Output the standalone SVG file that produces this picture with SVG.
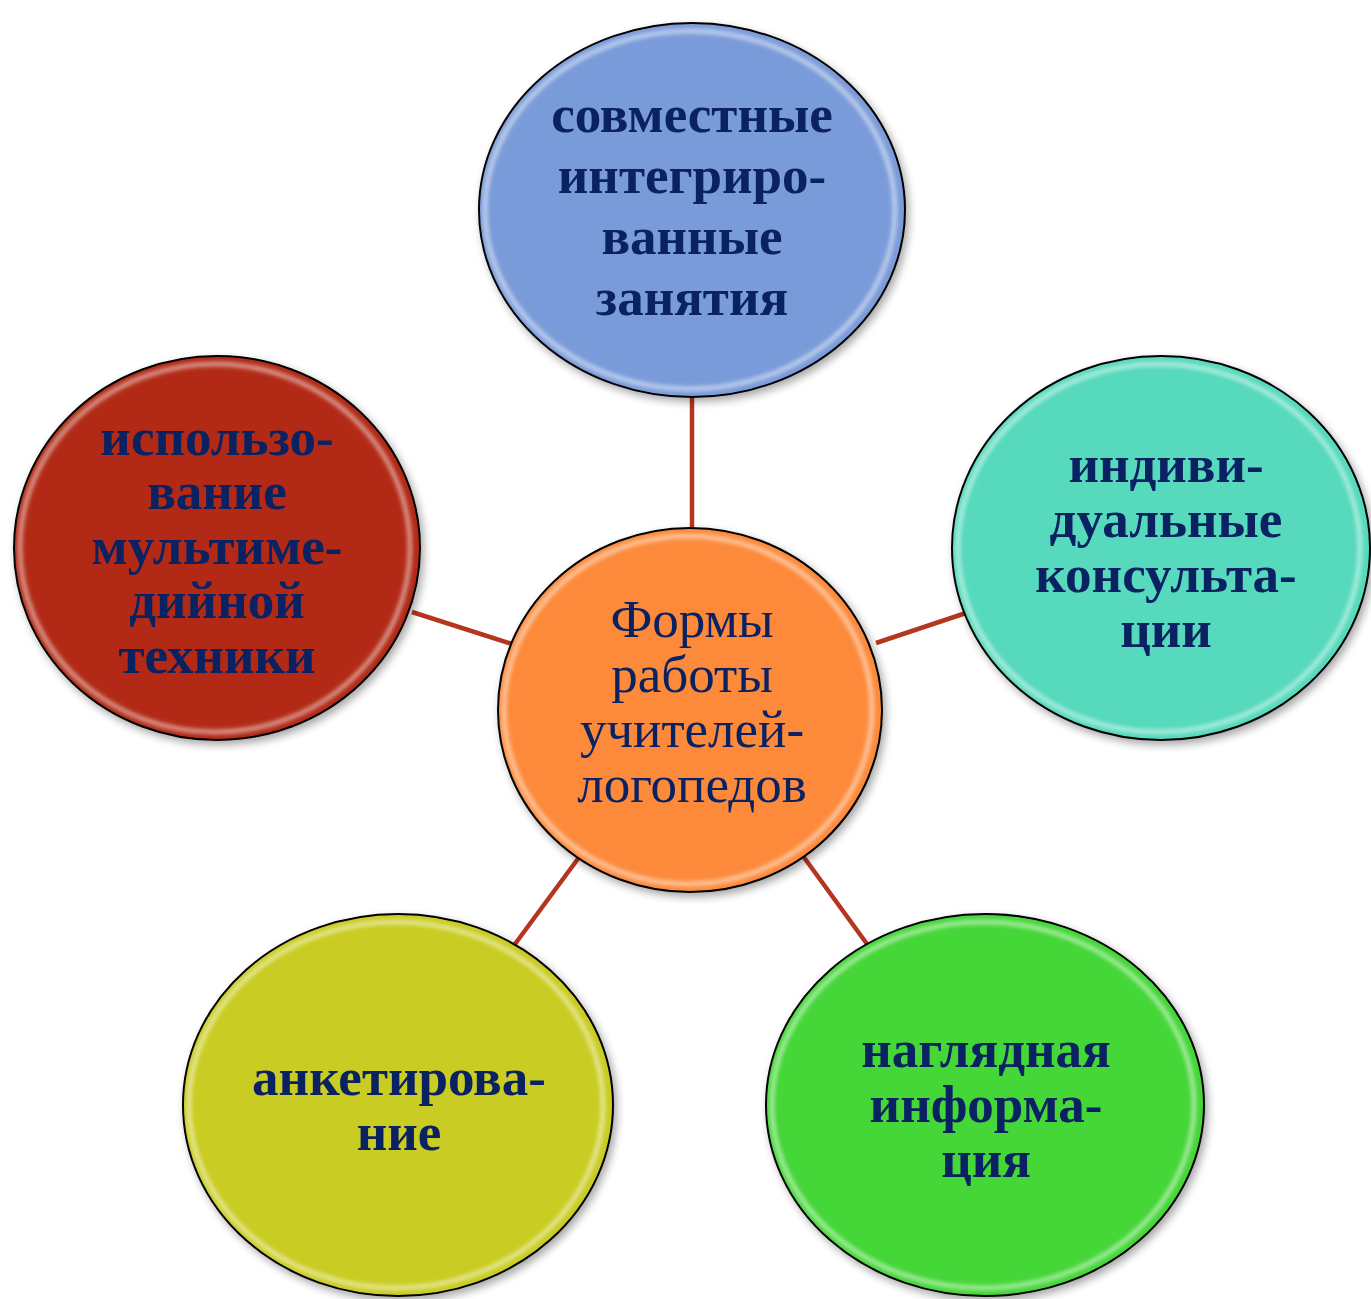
<svg xmlns="http://www.w3.org/2000/svg" width="1371" height="1299" viewBox="0 0 1371 1299">
<defs>
<style>
.bg{fill:#ffffff}
.conn line{stroke:#b5361f;stroke-width:4.5;stroke-linecap:butt}
.disc{stroke:#000;stroke-width:2}
.hl{fill:none;stroke:#ffffff;stroke-width:4;stroke-opacity:0.6}
.t{font-family:"Liberation Serif","Times New Roman",serif;font-weight:bold;font-size:53px;fill:#0b2262;text-anchor:middle}
.c{font-family:"Liberation Serif","Times New Roman",serif;font-size:53px;fill:#0b2262;text-anchor:middle}
</style>
<filter id="sh" x="-10%" y="-10%" width="125%" height="125%">
<feGaussianBlur in="SourceAlpha" stdDeviation="4"/>
<feOffset dx="3" dy="4" result="b"/>
<feComponentTransfer><feFuncA type="linear" slope="0.35"/></feComponentTransfer>
<feMerge><feMergeNode/><feMergeNode in="SourceGraphic"/></feMerge>
</filter>
<filter id="blur" x="-10%" y="-10%" width="120%" height="120%"><feGaussianBlur stdDeviation="2"/></filter>
</defs>
<rect class="bg" x="0" y="0" width="1371" height="1299"/>
<g id="connectors" class="conn">
<line x1="692" y1="396" x2="692" y2="530"/>
<line x1="412" y1="612" x2="512" y2="644"/>
<line x1="876" y1="643" x2="966" y2="613"/>
<line x1="580" y1="856" x2="515" y2="944"/>
<line x1="803" y1="856" x2="867" y2="944"/>
</g>
<g id="n-top">
<ellipse class="disc" cx="692" cy="210" rx="213" ry="187" fill="#7a9bd9" filter="url(#sh)"/>
<ellipse class="hl" cx="690" cy="210" rx="205" ry="179" filter="url(#blur)"/>
<text class="t" x="692" y="132">совместные</text>
<text class="t" x="692" y="193">интегриро-</text>
<text class="t" x="692" y="254">ванные</text>
<text class="t" x="692" y="315">занятия</text>
</g>
<g id="n-center">
<ellipse class="disc" cx="690" cy="710" rx="192" ry="182" fill="#fd8a3b" filter="url(#sh)"/>
<ellipse class="hl" cx="688" cy="710" rx="184" ry="174" filter="url(#blur)"/>
<text class="c" x="692" y="637">Формы</text>
<text class="c" x="692" y="692">работы</text>
<text class="c" x="692" y="747">учителей-</text>
<text class="c" x="692" y="802">логопедов</text>
</g>
<g id="n-left">
<ellipse class="disc" cx="217" cy="548" rx="203" ry="192" fill="#b22b17" filter="url(#sh)"/>
<ellipse class="hl" cx="215" cy="548" rx="195" ry="184" filter="url(#blur)"/>
<text class="t" x="217" y="455">использо-</text>
<text class="t" x="217" y="509">вание</text>
<text class="t" x="217" y="564">мультиме-</text>
<text class="t" x="217" y="618">дийной</text>
<text class="t" x="217" y="673">техники</text>
</g>
<g id="n-right">
<ellipse class="disc" cx="1161" cy="548" rx="209" ry="192" fill="#57d9bc" filter="url(#sh)"/>
<ellipse class="hl" cx="1159" cy="548" rx="201" ry="184" filter="url(#blur)"/>
<text class="t" x="1166" y="482">индиви-</text>
<text class="t" x="1166" y="537">дуальные</text>
<text class="t" x="1166" y="592">консульта-</text>
<text class="t" x="1166" y="647">ции</text>
</g>
<g id="n-bl">
<ellipse class="disc" cx="398" cy="1105" rx="215" ry="191" fill="#c9cc22" filter="url(#sh)"/>
<ellipse class="hl" cx="396" cy="1105" rx="207" ry="183" filter="url(#blur)"/>
<text class="t" x="399" y="1095">анкетирова-</text>
<text class="t" x="399" y="1150">ние</text>
</g>
<g id="n-br">
<ellipse class="disc" cx="985" cy="1105" rx="219" ry="191" fill="#45d639" filter="url(#sh)"/>
<ellipse class="hl" cx="983" cy="1105" rx="211" ry="183" filter="url(#blur)"/>
<text class="t" x="986" y="1067">наглядная</text>
<text class="t" x="986" y="1122">информа-</text>
<text class="t" x="986" y="1177">ция</text>
</g>
</svg>
